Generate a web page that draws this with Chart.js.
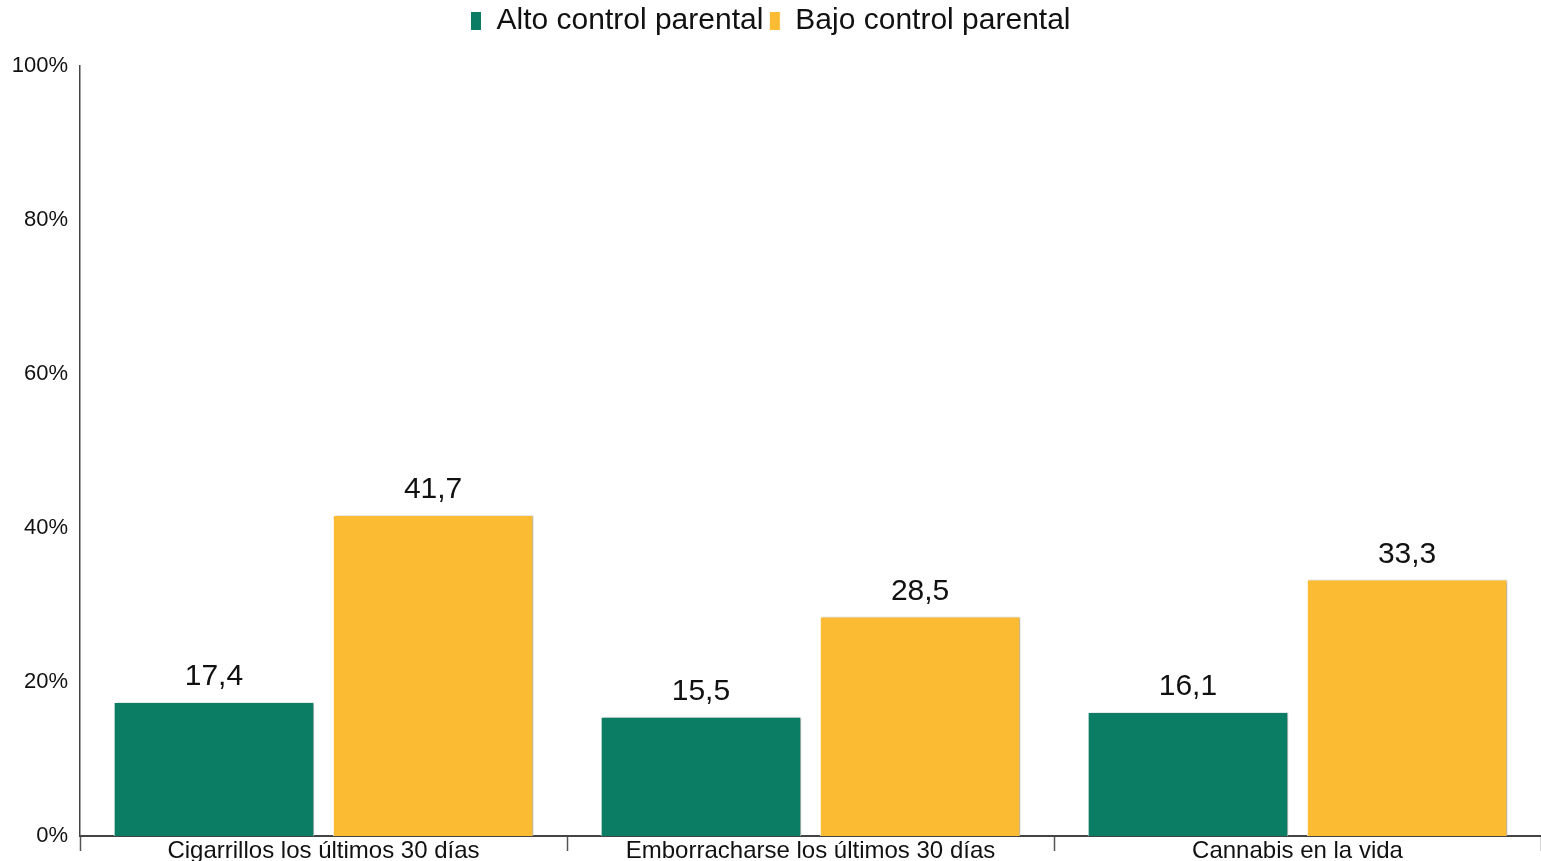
<!DOCTYPE html>
<html lang="es">
<head>
    <meta charset="UTF-8">
    <title>Control parental</title>
    <script src="https://cdn.jsdelivr.net/npm/chart.js"></script>
    <style>
        html, body { margin: 0; padding: 0; background: #fff; }
        #wrap { width: 1541px; height: 861px; }
    </style>
</head>
<body>
    <div id="wrap"><canvas id="parentalChart"></canvas></div>
    <script>
        const categories = ['Cigarrillos los últimos 30 días', 'Emborracharse los últimos 30 días', 'Cannabis en la vida'];
        const altoControl = [17.4, 15.5, 16.1];
        const bajoControl = [41.7, 28.5, 33.3];
        const seriesNames = ['Alto control parental', 'Bajo control parental'];

        Chart.defaults.font.family = '"Liberation Sans", Arial, sans-serif';
        Chart.defaults.color = '#1a1a1a';

        // extra room under the legend
        const legendMargin = {
            id: 'legendMargin',
            beforeInit(chart) {
                const fit = chart.legend.fit;
                chart.legend.fit = function () {
                    fit.bind(chart.legend)();
                    this.height += 20;
                };
            }
        };

        // light shadow on the right of each bar
        const barShadow = {
            id: 'barShadow',
            beforeDatasetsDraw(chart) {
                const ctx = chart.ctx;
                ctx.save();
                ctx.shadowColor = 'rgba(0,0,0,0.3)';
                ctx.shadowOffsetX = 2;
                ctx.shadowOffsetY = 0;
                ctx.shadowBlur = 2;
            },
            afterDatasetsDraw(chart) {
                chart.ctx.restore();
            }
        };

        // value labels above bars, comma decimals
        const valueLabels = {
            id: 'valueLabels',
            afterDatasetsDraw(chart) {
                const ctx = chart.ctx;
                ctx.save();
                ctx.font = '30px "Liberation Sans", Arial, sans-serif';
                ctx.fillStyle = '#111';
                ctx.textAlign = 'center';
                ctx.textBaseline = 'middle';
                chart.data.datasets.forEach((ds, i) => {
                    chart.getDatasetMeta(i).data.forEach((bar, j) => {
                        ctx.fillText(ds.data[j].toFixed(1).replace('.', ','), bar.x, bar.y - 25);
                    });
                });
                ctx.restore();
            }
        };

        new Chart(document.getElementById('parentalChart').getContext('2d'), {
            type: 'bar',
            data: {
                labels: categories,
                datasets: [
                    {
                        label: seriesNames[0],
                        data: altoControl,
                        backgroundColor: '#0a7d64',
                        borderColor: '#ffffff',
                        borderWidth: 1,
                        categoryPercentage: 0.9,
                        barPercentage: 0.915
                    },
                    {
                        label: seriesNames[1],
                        data: bajoControl,
                        backgroundColor: '#fbbc33',
                        borderColor: '#ffffff',
                        borderWidth: 1,
                        categoryPercentage: 0.9,
                        barPercentage: 0.915
                    }
                ]
            },
            options: {
                responsive: true,
                maintainAspectRatio: false,
                animation: false,
                layout: { padding: 0 },
                scales: {
                    x: {
                        offset: true,
                        afterFit: scale => { scale.height = 25; },
                        grid: {
                            offset: true,
                            drawOnChartArea: false,
                            drawTicks: true,
                            tickLength: 15,
                            tickWidth: 1.5,
                            tickColor: '#555'
                        },
                        border: { display: true, color: '#444', width: 2 },
                        ticks: {
                            font: { size: 24 },
                            color: '#111',
                            padding: -14,
                            maxRotation: 0,
                            autoSkip: false
                        }
                    },
                    y: {
                        min: 0,
                        max: 100,
                        afterFit: scale => { scale.width = 80; },
                        grid: { display: false },
                        border: { display: true, color: '#444', width: 1.5 },
                        ticks: {
                            stepSize: 20,
                            font: { size: 22 },
                            color: '#111',
                            padding: 4,
                            callback: v => v + '%'
                        }
                    }
                },
                plugins: {
                    legend: {
                        position: 'top',
                        labels: {
                            font: { size: 30 },
                            color: '#111',
                            boxWidth: 11,
                            boxHeight: 19,
                            padding: 6
                        }
                    },
                    tooltip: { enabled: false }
                }
            },
            plugins: [legendMargin, barShadow, valueLabels]
        });
    </script>
</body>
</html>
